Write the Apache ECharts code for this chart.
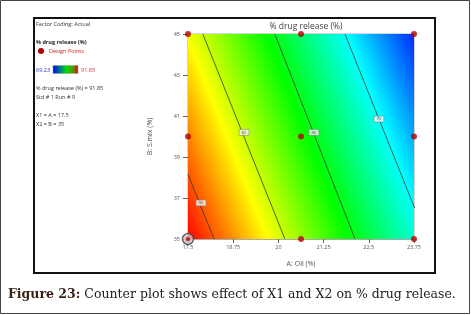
<!DOCTYPE html>
<html>
<head>
<meta charset="utf-8">
<script src="https://cdn.jsdelivr.net/npm/echarts@6/dist/echarts.min.js"></script>
<style>
  html, body { margin: 0; padding: 0; background: #fff; }
  #chart { width: 471px; height: 315px; }
</style>
</head>
<body>
<div id="chart"></div>
<script>
// ticks
const xTicks = [17.5, 18.75, 20, 21.25, 22.5, 23.75];
const yTicks = [35, 37, 39, 41, 43, 45];

// design points (A: Oil, B: S.mix)
const designA = [17.5, 20.625, 23.75, 17.5, 20.625, 23.75, 17.5, 20.625, 23.75];
const designB = [45, 45, 45, 40, 40, 40, 35, 35, 35];
const currentPoint = [17.5, 35];

// response range (colour bar)
const respMin = 69.23;
const respMax = 91.85;

// contour lines: [A, B] end points
const contourLevels = [90, 85, 80, 75];
const contourLines = [
  [[17.5, 38.15], [18.22, 35]],
  [[17.91, 45], [20.18, 35]],
  [[19.9, 45], [22.12, 35]],
  [[21.84, 45], [23.77, 36.5]]
];
const contourLabelPos = [[17.86, 36.76], [19.05, 40.2], [20.98, 40.2], [22.78, 40.85]];

const palette = ['#ff0000', '#ffff00', '#00ff00', '#00ffff', '#0000ff']; // high -> low

const chart = echarts.init(document.getElementById('chart'));

// gradient fill of the response surface, built from the 85 and 75 contours
function renderSurface(params, api) {
  const c0 = api.coord([xTicks[0], yTicks[0]]);
  const c1 = api.coord([xTicks[xTicks.length - 1], yTicks[yTicks.length - 1]]);
  const a1 = api.coord(contourLines[1][0]), a2 = api.coord(contourLines[1][1]);
  const b1 = api.coord(contourLines[3][0]);
  let dx = a2[0] - a1[0], dy = a2[1] - a1[1];
  const len = Math.sqrt(dx * dx + dy * dy);
  let nx = -dy / len, ny = dx / len;
  // point the normal towards the lower contour (75)
  let dist = (b1[0] - a1[0]) * nx + (b1[1] - a1[1]) * ny;
  if (dist < 0) { nx = -nx; ny = -ny; dist = -dist; }
  const pxPerUnit = dist / (contourLevels[1] - contourLevels[3]);
  const sStart = -(respMax - contourLevels[1]) * pxPerUnit;
  const sEnd = (contourLevels[1] - respMin) * pxPerUnit;
  const grad = new echarts.graphic.LinearGradient(
    a1[0] + nx * sStart, a1[1] + ny * sStart,
    a1[0] + nx * sEnd, a1[1] + ny * sEnd,
    palette.map((c, i) => ({ offset: i / (palette.length - 1), color: c })),
    true
  );
  return {
    type: 'rect',
    shape: { x: c0[0], y: c1[1], width: c1[0] - c0[0], height: c0[1] - c1[1] },
    style: { fill: grad }
  };
}

const contourSeries = contourLines.map((pts, i) => ({
  name: 'c' + contourLevels[i],
  type: 'line',
  data: pts,
  symbol: 'none',
  silent: true,
  z: 3,
  lineStyle: { color: '#3a3a2a', width: 0.8 }
}));

const axisFont = { fontSize: 5.5, color: '#555', fontFamily: 'Open Sans' };

chart.setOption({
  animation: false,
  title: {
    text: '% drug release (%)',
    left: 301,
    top: 17,
    textAlign: 'center',
    textStyle: { fontSize: 8.5, fontWeight: 'normal', color: '#444', fontFamily: 'Open Sans' }
  },
  grid: { left: 188, right: 57, top: 34, bottom: 76, show: true, borderColor: '#aaa', borderWidth: 1 },
  xAxis: {
    type: 'value',
    min: 17.5, max: 23.75, interval: 1.25,
    name: 'A: Oil (%)',
    nameLocation: 'middle',
    nameGap: 21,
    nameTextStyle: { fontSize: 7, color: '#555', fontFamily: 'Open Sans' },
    axisLine: { show: true, lineStyle: { color: '#aaa' } },
    axisTick: { show: true, length: 4, lineStyle: { color: '#666' } },
    axisLabel: Object.assign({ margin: 5 }, axisFont),
    splitLine: { show: false }
  },
  yAxis: {
    type: 'value',
    min: 35, max: 45, interval: 2,
    name: 'B: S.mix (%)',
    nameLocation: 'middle',
    nameGap: 35,
    nameTextStyle: { fontSize: 7, color: '#555', fontFamily: 'Open Sans' },
    axisLine: { show: true, lineStyle: { color: '#aaa' } },
    axisTick: { show: true, length: 5, lineStyle: { color: '#666' } },
    axisLabel: Object.assign({ margin: 8 }, axisFont),
    splitLine: { show: false }
  },
  series: [
    {
      type: 'custom',
      renderItem: renderSurface,
      data: [[xTicks[0], yTicks[0]]],
      silent: true,
      z: 1
    },
    ...contourSeries,
    {
      type: 'scatter',
      data: contourLabelPos.map((p, i) => ({ value: p, label: { formatter: String(contourLevels[i]) } })),
      symbol: 'rect',
      symbolSize: [10, 6],
      silent: true,
      z: 4,
      itemStyle: { color: '#f4f4f4', borderColor: '#777', borderWidth: 0.6 },
      label: { show: true, position: 'inside', fontSize: 4, color: '#333', fontFamily: 'Open Sans' }
    },
    {
      type: 'scatter',
      data: designA.map((a, i) => [a, designB[i]]),
      symbolSize: 6,
      clip: false,
      z: 5,
      itemStyle: { color: '#b40000' }
    },
    {
      type: 'scatter',
      data: [currentPoint],
      symbolSize: 11,
      clip: false,
      z: 6,
      itemStyle: { color: '#d8c8c8', borderColor: '#444', borderWidth: 1.5 }
    },
    {
      type: 'scatter',
      data: [currentPoint],
      symbolSize: 4,
      clip: false,
      z: 7,
      itemStyle: { color: '#b40000' }
    }
  ],
  graphic: [
    { type: 'rect', shape: { x: 0.5, y: 0.5, width: 469, height: 313 }, style: { fill: 'none', stroke: '#444', lineWidth: 1 }, silent: true },
    { type: 'rect', shape: { x: 34, y: 18, width: 401, height: 255 }, style: { fill: 'none', stroke: '#111', lineWidth: 2 }, silent: true },
    { type: 'text', left: 36, top: 21, style: { text: 'Factor Coding: Actual', fontSize: 5.5, fill: '#333', fontFamily: 'Open Sans' } },
    { type: 'text', left: 36, top: 39, style: { text: '% drug release (%)', fontSize: 5.5, fontWeight: 'bold', fill: '#222', fontFamily: 'Open Sans' } },
    { type: 'circle', shape: { cx: 41, cy: 51, r: 3 }, style: { fill: '#b40000' } },
    { type: 'text', left: 49, top: 48, style: { text: 'Design Points', fontSize: 5.5, fill: '#d02020', fontFamily: 'Open Sans' } },
    { type: 'text', left: 36, top: 67, style: { text: String(respMin), fontSize: 5.5, fill: '#3030e0', fontFamily: 'Open Sans' } },
    {
      type: 'rect', shape: { x: 53, y: 65.5, width: 25, height: 8 },
      style: {
        fill: new echarts.graphic.LinearGradient(0, 0, 1, 0, [
          { offset: 0, color: '#0000ff' }, { offset: 0.3, color: '#008080' },
          { offset: 0.55, color: '#00e000' }, { offset: 0.8, color: '#609000' }, { offset: 1, color: '#e00000' }
        ]),
        stroke: '#999', lineWidth: 0.5
      }
    },
    { type: 'text', left: 81, top: 67, style: { text: String(respMax), fontSize: 5.5, fill: '#e03030', fontFamily: 'Open Sans' } },
    { type: 'text', left: 36, top: 85, style: { text: '% drug release (%) = ' + respMax, fontSize: 5.5, fill: '#333', fontFamily: 'Open Sans' } },
    { type: 'text', left: 36, top: 94, style: { text: 'Std # 1 Run # 9', fontSize: 5.5, fill: '#333', fontFamily: 'Open Sans' } },
    { type: 'text', left: 36, top: 112, style: { text: 'X1 = A = ' + currentPoint[0], fontSize: 5.5, fill: '#333', fontFamily: 'Open Sans' } },
    { type: 'text', left: 36, top: 121, style: { text: 'X2 = B = ' + currentPoint[1], fontSize: 5.5, fill: '#333', fontFamily: 'Open Sans' } },
    {
      type: 'text', left: 8, top: 288,
      style: {
        text: '{b|Figure 23:} Counter plot shows effect of X1 and X2 on % drug release.',
        fontSize: 12.5, fill: '#222', fontFamily: 'DejaVu Serif',
        rich: { b: { fontSize: 12.5, fontWeight: 'bold', fill: '#3a1f14', fontFamily: 'DejaVu Serif' } }
      }
    }
  ]
});
</script>
</body>
</html>
